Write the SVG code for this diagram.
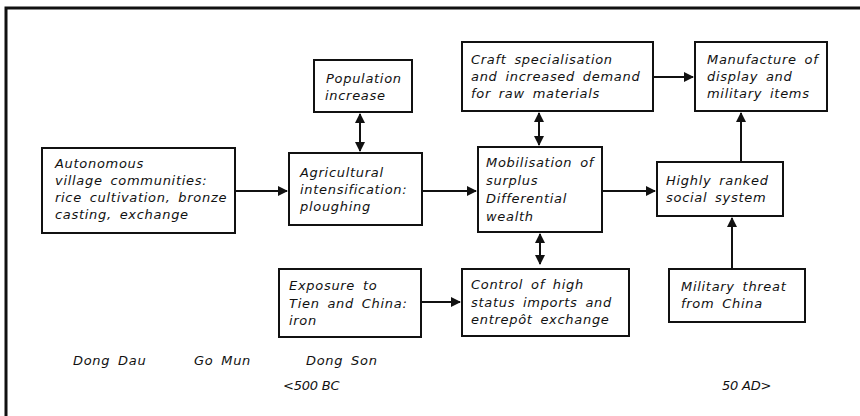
<svg xmlns="http://www.w3.org/2000/svg" width="860" height="416" viewBox="0 0 860 416">
<defs>
<style>
.box{fill:#fff;stroke:#111;stroke-width:2}
.t{font-family:"DejaVu Sans",sans-serif;font-style:italic;font-size:13px;fill:#111;letter-spacing:0.7px;word-spacing:3px}
.c{stroke:#111;stroke-width:2;fill:none}
</style>
<marker id="ah" viewBox="0 0 10 10" refX="9" refY="5" markerWidth="11" markerHeight="10" markerUnits="userSpaceOnUse" orient="auto-start-reverse">
<path d="M0,0 L10,5 L0,10 Z" fill="#111"/>
</marker>
</defs>
<rect width="860" height="416" fill="#fff"/>
<path d="M6,416 V8 H860" fill="none" stroke="#111" stroke-width="3"/>

<g id="connectors">
<line class="c" x1="235" y1="191" x2="287" y2="191" marker-end="url(#ah)"/>
<line class="c" x1="422" y1="191" x2="476" y2="191" marker-end="url(#ah)"/>
<line class="c" x1="602" y1="191" x2="655" y2="191" marker-end="url(#ah)"/>
<line class="c" x1="653" y1="77" x2="693" y2="77" marker-end="url(#ah)"/>
<line class="c" x1="741" y1="162" x2="741" y2="113" marker-end="url(#ah)"/>
<line class="c" x1="732" y1="269" x2="732" y2="218" marker-end="url(#ah)"/>
<line class="c" x1="421" y1="302" x2="460" y2="302" marker-end="url(#ah)"/>
<line class="c" x1="360" y1="114" x2="360" y2="151" marker-start="url(#ah)" marker-end="url(#ah)"/>
<line class="c" x1="539" y1="113" x2="539" y2="145" marker-start="url(#ah)" marker-end="url(#ah)"/>
<line class="c" x1="540" y1="234" x2="540" y2="264" marker-start="url(#ah)" marker-end="url(#ah)"/>
</g>

<g id="autonomous">
<rect class="box" x="42" y="148" width="193" height="85"/>
<text class="t" x="55" y="168">Autonomous</text>
<text class="t" x="55" y="185">village communities:</text>
<text class="t" x="55" y="202">rice cultivation, bronze</text>
<text class="t" x="55" y="219">casting, exchange</text>
</g>

<g id="population">
<rect class="box" x="314" y="60" width="98" height="52"/>
<text class="t" x="326" y="83">Population</text>
<text class="t" x="325" y="100">increase</text>
</g>

<g id="agricultural">
<rect class="box" x="289" y="153" width="133" height="72"/>
<text class="t" x="300" y="177">Agricultural</text>
<text class="t" x="300" y="194">intensification:</text>
<text class="t" x="300" y="211">ploughing</text>
</g>

<g id="craft">
<rect class="box" x="462" y="42" width="191" height="69"/>
<text class="t" x="471" y="64">Craft specialisation</text>
<text class="t" x="471" y="81">and increased demand</text>
<text class="t" x="471" y="98">for raw materials</text>
</g>

<g id="manufacture">
<rect class="box" x="695" y="42" width="132" height="69"/>
<text class="t" x="707" y="64">Manufacture of</text>
<text class="t" x="707" y="81">display and</text>
<text class="t" x="707" y="98">military items</text>
</g>

<g id="mobilisation">
<rect class="box" x="478" y="147" width="124" height="85"/>
<text class="t" x="486" y="167">Mobilisation of</text>
<text class="t" x="486" y="185">surplus</text>
<text class="t" x="486" y="203">Differential</text>
<text class="t" x="486" y="221">wealth</text>
</g>

<g id="ranked">
<rect class="box" x="657" y="162" width="126" height="54"/>
<text class="t" x="666" y="185">Highly ranked</text>
<text class="t" x="666" y="202">social system</text>
</g>

<g id="exposure">
<rect class="box" x="279" y="269" width="142" height="68"/>
<text class="t" x="289" y="290">Exposure to</text>
<text class="t" x="289" y="308">Tien and China:</text>
<text class="t" x="289" y="325">iron</text>
</g>

<g id="control">
<rect class="box" x="462" y="269" width="167" height="67"/>
<text class="t" x="471" y="289">Control of high</text>
<text class="t" x="471" y="307">status imports and</text>
<text class="t" x="471" y="324">entrepôt exchange</text>
</g>

<g id="military">
<rect class="box" x="669" y="269" width="136" height="53"/>
<text class="t" x="681" y="291">Military threat</text>
<text class="t" x="681" y="308">from China</text>
</g>

<g id="timeline">
<text class="t" x="73" y="365">Dong Dau</text>
<text class="t" x="194" y="365">Go Mun</text>
<text class="t" x="306" y="365">Dong Son</text>
<text class="t" x="283" y="390" style="letter-spacing:-0.2px;word-spacing:0">&lt;500 BC</text>
<text class="t" x="722" y="390" style="letter-spacing:-0.2px;word-spacing:0">50 AD&gt;</text>
</g>
</svg>
